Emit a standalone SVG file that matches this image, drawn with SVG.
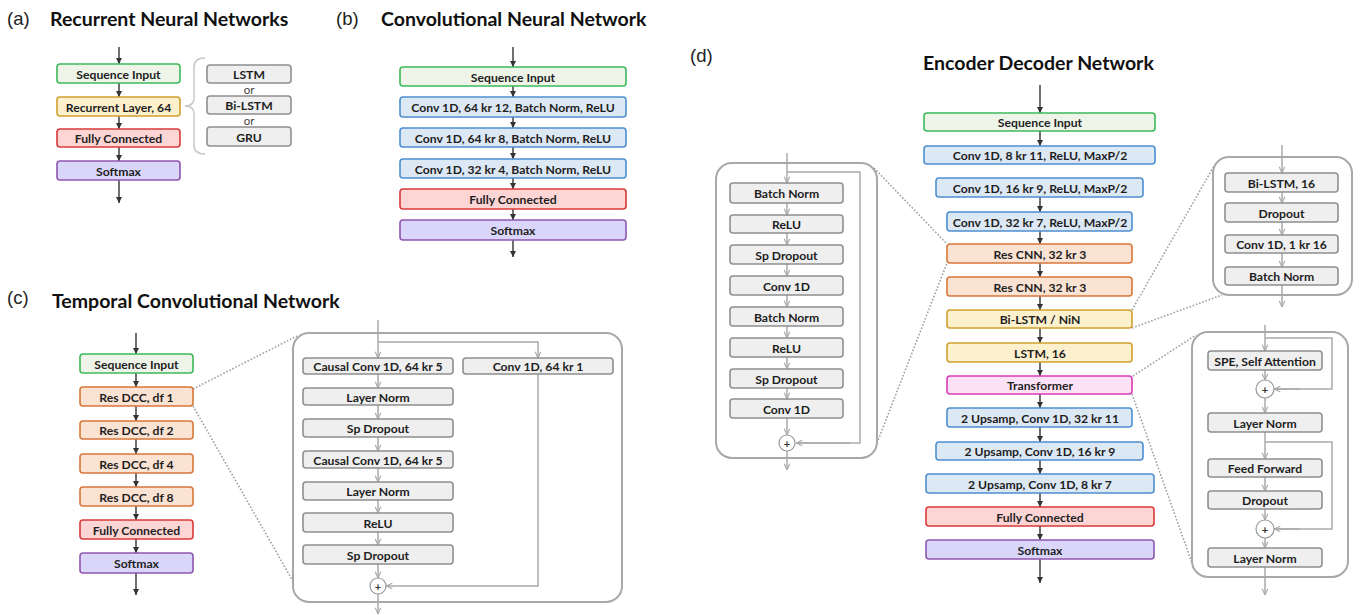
<svg xmlns="http://www.w3.org/2000/svg" width="1360" height="615" viewBox="0 0 1360 615">
<defs>
<marker id="ad" viewBox="0 0 10 10" refX="10" refY="5" markerWidth="6" markerHeight="6" orient="auto" markerUnits="userSpaceOnUse"><path d="M0,0 L10,5 L0,10 z" fill="#333"/></marker>
<marker id="ag" viewBox="0 0 10 10" refX="10" refY="5" markerWidth="7" markerHeight="7" orient="auto" markerUnits="userSpaceOnUse"><path d="M1,1 L10,5 L1,9" fill="none" stroke="#aaa" stroke-width="1.6"/></marker>
<style>
text{font-family:Lato,"Liberation Sans",sans-serif;}
.lab{font-family:"Liberation Sans",Arial,sans-serif;font-size:18.5px;fill:#222;}
.ttl{font-size:19.5px;font-weight:bold;fill:#111;}
.t{font-size:12.2px;font-weight:bold;fill:#1e1e1e;text-anchor:middle;dominant-baseline:central;}
.or{font-size:11.5px;fill:#444;text-anchor:middle;dominant-baseline:central;}
.pl{font-size:11px;font-weight:bold;fill:#333;text-anchor:middle;dominant-baseline:central;}
rect{stroke-width:1.6;}
.g rect{fill:#eef5e8;stroke:#3cb95a;}
.b rect{fill:#dde8f5;stroke:#4d8fd0;}
.o rect{fill:#fbe3d3;stroke:#d8773a;}
.r rect{fill:#fdd5d5;stroke:#d83a3a;}
.p rect{fill:#d9d6fa;stroke:#8e56b0;}
.y rect{fill:#fdf0cc;stroke:#cfa12e;}
.m rect{fill:#fde2f7;stroke:#d93cb7;}
.k rect{fill:#efefef;stroke:#8f8f8f;}
.box{fill:#fff;stroke:#a8a8a8;stroke-width:2;}
.c{fill:#fff;stroke:#999;stroke-width:1.2;}
.d{stroke:#333;stroke-width:1.4;fill:none;marker-end:url(#ad);}
.gl{stroke:#aaa;stroke-width:1.5;fill:none;}
.ga{stroke:#aaa;stroke-width:1.5;fill:none;marker-end:url(#ag);}
.dot{stroke:#a0a0a0;stroke-width:1.6;stroke-dasharray:1.6 1.8;fill:none;}
.br{stroke:#c8c8c8;stroke-width:1.5;fill:none;}
</style>
</defs>
<rect x="0" y="0" width="1360" height="615" fill="#fff" stroke="none"/>

<!-- Labels and titles -->
<text class="lab" x="7" y="25">(a)</text>
<text class="ttl" x="50" y="26">Recurrent Neural Networks</text>
<text class="lab" x="336" y="25">(b)</text>
<text class="ttl" x="381" y="26">Convolutional Neural Network</text>
<text class="lab" x="7" y="304">(c)</text>
<text class="ttl" x="52" y="308">Temporal Convolutional Network</text>
<text class="lab" x="690" y="62">(d)</text>
<text class="ttl" x="923" y="70">Encoder Decoder Network</text>

<!-- Containers (expansion boxes) -->
<g id="tcn-block"><rect class="box" x="293" y="333" width="329" height="269" rx="16"/></g>
<g id="rescnn-block"><rect class="box" x="716" y="163" width="161" height="295" rx="16"/></g>
<g id="bilstm-block"><rect class="box" x="1213" y="157" width="139" height="138" rx="16"/></g>
<g id="transformer-block"><rect class="box" x="1192" y="332" width="156" height="245" rx="16"/></g>

<!-- Connectors -->
<g id="connectors">
<!-- (a) -->
<line class="d" x1="119" y1="47" x2="119" y2="64"/>
<line class="d" x1="119" y1="83" x2="119" y2="97"/>
<line class="d" x1="119" y1="116" x2="119" y2="129"/>
<line class="d" x1="119" y1="147" x2="119" y2="161"/>
<line class="d" x1="119" y1="180" x2="119" y2="203"/>
<path class="br" d="M205,58 Q194,58 194,67 L194,98 Q194,106 185,106 Q194,106 194,114 L194,145 Q194,154 205,154"/>
<!-- (b) -->
<line class="d" x1="513" y1="47" x2="513" y2="67"/>
<line class="d" x1="513" y1="86" x2="513" y2="97"/>
<line class="d" x1="513" y1="117" x2="513" y2="128"/>
<line class="d" x1="513" y1="147" x2="513" y2="159"/>
<line class="d" x1="513" y1="178" x2="513" y2="189"/>
<line class="d" x1="513" y1="209" x2="513" y2="220"/>
<line class="d" x1="513" y1="240" x2="513" y2="257"/>
<!-- (c) main -->
<line class="d" x1="136" y1="333" x2="136" y2="354"/>
<line class="d" x1="136" y1="373" x2="136" y2="387"/>
<line class="d" x1="136" y1="406" x2="136" y2="421"/>
<line class="d" x1="136" y1="439" x2="136" y2="454"/>
<line class="d" x1="136" y1="473" x2="136" y2="487"/>
<line class="d" x1="136" y1="506" x2="136" y2="520"/>
<line class="d" x1="136" y1="539" x2="136" y2="553"/>
<line class="d" x1="136" y1="573" x2="136" y2="595"/>
<line class="dot" x1="193" y1="389" x2="297" y2="336"/>
<line class="dot" x1="193" y1="406" x2="294" y2="583"/>
<!-- (c) block -->
<line class="ga" x1="378" y1="320" x2="378" y2="358"/>
<path class="ga" d="M378,342 H538 V358"/>
<line class="ga" x1="378" y1="374" x2="378" y2="388"/>
<line class="ga" x1="378" y1="405" x2="378" y2="419"/>
<line class="ga" x1="378" y1="437" x2="378" y2="451"/>
<line class="ga" x1="378" y1="468" x2="378" y2="482"/>
<line class="ga" x1="378" y1="500" x2="378" y2="513"/>
<line class="ga" x1="378" y1="532" x2="378" y2="545"/>
<line class="ga" x1="378" y1="564" x2="378" y2="578"/>
<path class="ga" d="M538,374 V586 H386"/>
<line class="ga" x1="378" y1="594" x2="378" y2="614"/>
<!-- (d) main -->
<line class="d" x1="1040" y1="85" x2="1040" y2="113"/>
<line class="d" x1="1040" y1="131" x2="1040" y2="146"/>
<line class="d" x1="1040" y1="197" x2="1040" y2="212"/>
<line class="d" x1="1040" y1="231" x2="1040" y2="244"/>
<line class="d" x1="1040" y1="263" x2="1040" y2="277"/>
<line class="d" x1="1040" y1="296" x2="1040" y2="310"/>
<line class="d" x1="1040" y1="328" x2="1040" y2="343"/>
<line class="d" x1="1040" y1="362" x2="1040" y2="376"/>
<line class="d" x1="1040" y1="394" x2="1040" y2="408"/>
<line class="d" x1="1040" y1="427" x2="1040" y2="442"/>
<line class="d" x1="1040" y1="460" x2="1040" y2="474"/>
<line class="d" x1="1040" y1="493" x2="1040" y2="507"/>
<line class="d" x1="1040" y1="526" x2="1040" y2="540"/>
<line class="d" x1="1040" y1="559" x2="1040" y2="583"/>
<line class="dot" x1="874" y1="168" x2="947" y2="244"/>
<line class="dot" x1="877" y1="443" x2="947" y2="263"/>
<line class="dot" x1="1132" y1="310" x2="1214" y2="166"/>
<line class="dot" x1="1132" y1="328" x2="1222" y2="295"/>
<line class="dot" x1="1133" y1="376" x2="1196" y2="335"/>
<line class="dot" x1="1132" y1="394" x2="1192" y2="563"/>
<!-- (d) res cnn block -->
<line class="ga" x1="787" y1="153" x2="787" y2="183"/>
<path class="gl" d="M787,172 H860 V443 H797"/>
<path class="ga" d="M850,443 H796"/>
<line class="ga" x1="787" y1="203" x2="787" y2="215"/>
<line class="ga" x1="787" y1="233" x2="787" y2="245"/>
<line class="ga" x1="787" y1="264" x2="787" y2="276"/>
<line class="ga" x1="787" y1="295" x2="787" y2="307"/>
<line class="ga" x1="787" y1="326" x2="787" y2="338"/>
<line class="ga" x1="787" y1="357" x2="787" y2="369"/>
<line class="ga" x1="787" y1="388" x2="787" y2="399"/>
<line class="ga" x1="787" y1="418" x2="787" y2="435"/>
<line class="ga" x1="787" y1="451" x2="787" y2="470"/>
<!-- (d) bi-lstm block -->
<line class="ga" x1="1282" y1="145" x2="1282" y2="173"/>
<line class="ga" x1="1282" y1="192" x2="1282" y2="203"/>
<line class="ga" x1="1282" y1="222" x2="1282" y2="235"/>
<line class="ga" x1="1282" y1="253" x2="1282" y2="267"/>
<line class="ga" x1="1282" y1="285" x2="1282" y2="307"/>
<!-- (d) transformer block -->
<line class="ga" x1="1265" y1="325" x2="1265" y2="351"/>
<path class="gl" d="M1265,338 H1332 V389 H1275"/>
<path class="ga" d="M1300,389 H1274"/>
<line class="ga" x1="1265" y1="370" x2="1265" y2="380"/>
<line class="ga" x1="1265" y1="398" x2="1265" y2="413"/>
<line class="ga" x1="1265" y1="432" x2="1265" y2="459"/>
<path class="gl" d="M1265,442 H1332 V529 H1275"/>
<path class="ga" d="M1300,529 H1274"/>
<line class="ga" x1="1265" y1="477" x2="1265" y2="491"/>
<line class="ga" x1="1265" y1="509" x2="1265" y2="520"/>
<line class="ga" x1="1265" y1="538" x2="1265" y2="548"/>
<line class="ga" x1="1265" y1="567" x2="1265" y2="595"/>
</g>

<!-- (a) nodes -->
<g id="a-seq" class="g"><rect x="57" y="64" width="123" height="19" rx="3"/><text class="t" x="118.5" y="74">Sequence Input</text></g>
<g id="a-rec" class="y"><rect x="57" y="97" width="123" height="19" rx="3"/><text class="t" x="118.5" y="107">Recurrent Layer, 64</text></g>
<g id="a-fc" class="r"><rect x="57" y="129" width="123" height="18" rx="3"/><text class="t" x="118.5" y="138.5">Fully Connected</text></g>
<g id="a-sm" class="p"><rect x="57" y="161" width="123" height="19" rx="3"/><text class="t" x="118.5" y="171">Softmax</text></g>
<g id="a-lstm" class="k"><rect x="207" y="65" width="84" height="18" rx="3"/><text class="t" x="249" y="74.5">LSTM</text></g>
<g id="a-bilstm" class="k"><rect x="207" y="96" width="84" height="18" rx="3"/><text class="t" x="249" y="105.5">Bi-LSTM</text></g>
<g id="a-gru" class="k"><rect x="207" y="127" width="84" height="19" rx="3"/><text class="t" x="249" y="137">GRU</text></g>
<text class="or" x="249" y="89.5">or</text>
<text class="or" x="249" y="120.5">or</text>

<!-- (b) nodes -->
<g id="b-seq" class="g"><rect x="400" y="67" width="226" height="19" rx="3"/><text class="t" x="513" y="77">Sequence Input</text></g>
<g id="b-c1" class="b"><rect x="400" y="97" width="226" height="20" rx="3"/><text class="t" x="513" y="107.5">Conv 1D, 64 kr 12, Batch Norm, ReLU</text></g>
<g id="b-c2" class="b"><rect x="400" y="128" width="226" height="19" rx="3"/><text class="t" x="513" y="138">Conv 1D, 64 kr 8, Batch Norm, ReLU</text></g>
<g id="b-c3" class="b"><rect x="400" y="159" width="226" height="19" rx="3"/><text class="t" x="513" y="169">Conv 1D, 32 kr 4, Batch Norm, ReLU</text></g>
<g id="b-fc" class="r"><rect x="400" y="189" width="226" height="20" rx="3"/><text class="t" x="513" y="199.5">Fully Connected</text></g>
<g id="b-sm" class="p"><rect x="400" y="220" width="226" height="20" rx="3"/><text class="t" x="513" y="230.5">Softmax</text></g>

<!-- (c) nodes -->
<g id="c-seq" class="g"><rect x="80" y="354" width="113" height="19" rx="3"/><text class="t" x="136.5" y="364">Sequence Input</text></g>
<g id="c-r1" class="o"><rect x="80" y="387" width="113" height="19" rx="3"/><text class="t" x="136.5" y="397">Res DCC, df 1</text></g>
<g id="c-r2" class="o"><rect x="80" y="421" width="113" height="18" rx="3"/><text class="t" x="136.5" y="430.5">Res DCC, df 2</text></g>
<g id="c-r4" class="o"><rect x="80" y="454" width="113" height="19" rx="3"/><text class="t" x="136.5" y="464">Res DCC, df 4</text></g>
<g id="c-r8" class="o"><rect x="80" y="487" width="113" height="19" rx="3"/><text class="t" x="136.5" y="497">Res DCC, df 8</text></g>
<g id="c-fc" class="r"><rect x="80" y="520" width="113" height="19" rx="3"/><text class="t" x="136.5" y="530">Fully Connected</text></g>
<g id="c-sm" class="p"><rect x="80" y="553" width="113" height="20" rx="3"/><text class="t" x="136.5" y="563.5">Softmax</text></g>

<!-- (c) block nodes -->
<g id="c-cc1" class="k"><rect x="303" y="358" width="150" height="16" rx="3"/><text class="t" x="378" y="366.5">Causal Conv 1D, 64 kr 5</text></g>
<g id="c-c11" class="k"><rect x="463" y="358" width="150" height="16" rx="3"/><text class="t" x="538" y="366.5">Conv 1D, 64 kr 1</text></g>
<g id="c-ln1" class="k"><rect x="303" y="388" width="150" height="17" rx="3"/><text class="t" x="378" y="397">Layer Norm</text></g>
<g id="c-sd1" class="k"><rect x="303" y="419" width="150" height="18" rx="3"/><text class="t" x="378" y="428.5">Sp Dropout</text></g>
<g id="c-cc2" class="k"><rect x="303" y="451" width="150" height="17" rx="3"/><text class="t" x="378" y="460">Causal Conv 1D, 64 kr 5</text></g>
<g id="c-ln2" class="k"><rect x="303" y="482" width="150" height="18" rx="3"/><text class="t" x="378" y="491.5">Layer Norm</text></g>
<g id="c-relu" class="k"><rect x="303" y="513" width="150" height="19" rx="3"/><text class="t" x="378" y="523">ReLU</text></g>
<g id="c-sd2" class="k"><rect x="303" y="545" width="150" height="19" rx="3"/><text class="t" x="378" y="555">Sp Dropout</text></g>
<g id="c-add"><circle class="c" cx="378" cy="586" r="8"/><text class="pl" x="378" y="586.5">+</text></g>

<!-- (d) main nodes -->
<g id="d-seq" class="g"><rect x="924" y="113" width="231" height="18" rx="3"/><text class="t" x="1040" y="122.5">Sequence Input</text></g>
<g id="d-c1" class="b"><rect x="924" y="146" width="231" height="18" rx="3"/><text class="t" x="1040" y="155.5">Conv 1D, 8 kr 11, ReLU, MaxP/2</text></g>
<g id="d-c2" class="b"><rect x="936" y="178" width="207" height="19" rx="3"/><text class="t" x="1040" y="188">Conv 1D, 16 kr 9, ReLU, MaxP/2</text></g>
<g id="d-c3" class="b"><rect x="947" y="212" width="185" height="19" rx="3"/><text class="t" x="1040" y="222">Conv 1D, 32 kr 7, ReLU, MaxP/2</text></g>
<g id="d-res1" class="o"><rect x="947" y="244" width="185" height="19" rx="3"/><text class="t" x="1040" y="254">Res CNN, 32 kr 3</text></g>
<g id="d-res2" class="o"><rect x="947" y="277" width="185" height="19" rx="3"/><text class="t" x="1040" y="287">Res CNN, 32 kr 3</text></g>
<g id="d-bilstm" class="y"><rect x="947" y="310" width="185" height="18" rx="3"/><text class="t" x="1040" y="319.5">Bi-LSTM / NiN</text></g>
<g id="d-lstm" class="y"><rect x="947" y="343" width="185" height="19" rx="3"/><text class="t" x="1040" y="353">LSTM, 16</text></g>
<g id="d-trans" class="m"><rect x="947" y="376" width="185" height="18" rx="3"/><text class="t" x="1040" y="385.5">Transformer</text></g>
<g id="d-u1" class="b"><rect x="947" y="408" width="185" height="19" rx="3"/><text class="t" x="1040" y="418">2 Upsamp, Conv 1D, 32 kr 11</text></g>
<g id="d-u2" class="b"><rect x="936" y="442" width="207" height="18" rx="3"/><text class="t" x="1040" y="451.5">2 Upsamp, Conv 1D, 16 kr 9</text></g>
<g id="d-u3" class="b"><rect x="926" y="474" width="228" height="19" rx="3"/><text class="t" x="1040" y="484">2 Upsamp, Conv 1D, 8 kr 7</text></g>
<g id="d-fc" class="r"><rect x="926" y="507" width="228" height="19" rx="3"/><text class="t" x="1040" y="517">Fully Connected</text></g>
<g id="d-sm" class="p"><rect x="926" y="540" width="228" height="19" rx="3"/><text class="t" x="1040" y="550">Softmax</text></g>

<!-- (d) res cnn block nodes -->
<g id="r-bn1" class="k"><rect x="730" y="183" width="113" height="20" rx="3"/><text class="t" x="786.5" y="193.5">Batch Norm</text></g>
<g id="r-relu1" class="k"><rect x="730" y="215" width="113" height="18" rx="3"/><text class="t" x="786.5" y="224.5">ReLU</text></g>
<g id="r-sd1" class="k"><rect x="730" y="245" width="113" height="19" rx="3"/><text class="t" x="786.5" y="255">Sp Dropout</text></g>
<g id="r-conv1" class="k"><rect x="730" y="276" width="113" height="19" rx="3"/><text class="t" x="786.5" y="286">Conv 1D</text></g>
<g id="r-bn2" class="k"><rect x="730" y="307" width="113" height="19" rx="3"/><text class="t" x="786.5" y="317">Batch Norm</text></g>
<g id="r-relu2" class="k"><rect x="730" y="338" width="113" height="19" rx="3"/><text class="t" x="786.5" y="348">ReLU</text></g>
<g id="r-sd2" class="k"><rect x="730" y="369" width="113" height="19" rx="3"/><text class="t" x="786.5" y="379">Sp Dropout</text></g>
<g id="r-conv2" class="k"><rect x="730" y="399" width="113" height="19" rx="3"/><text class="t" x="786.5" y="409">Conv 1D</text></g>
<g id="r-add"><circle class="c" cx="787" cy="443" r="8"/><text class="pl" x="787" y="443.5">+</text></g>

<!-- (d) bi-lstm block nodes -->
<g id="l-bilstm" class="k"><rect x="1225" y="173" width="113" height="19" rx="3"/><text class="t" x="1281.5" y="183">Bi-LSTM, 16</text></g>
<g id="l-drop" class="k"><rect x="1225" y="203" width="113" height="19" rx="3"/><text class="t" x="1281.5" y="213">Dropout</text></g>
<g id="l-conv" class="k"><rect x="1225" y="235" width="113" height="18" rx="3"/><text class="t" x="1281.5" y="244.5">Conv 1D, 1 kr 16</text></g>
<g id="l-bn" class="k"><rect x="1225" y="267" width="113" height="18" rx="3"/><text class="t" x="1281.5" y="276.5">Batch Norm</text></g>

<!-- (d) transformer block nodes -->
<g id="t-spe" class="k"><rect x="1208" y="351" width="114" height="19" rx="3"/><text class="t" x="1265" y="361">SPE, Self Attention</text></g>
<g id="t-add1"><circle class="c" cx="1265" cy="389" r="9"/><text class="pl" x="1265" y="389.5">+</text></g>
<g id="t-ln1" class="k"><rect x="1208" y="413" width="114" height="19" rx="3"/><text class="t" x="1265" y="423">Layer Norm</text></g>
<g id="t-ff" class="k"><rect x="1208" y="459" width="114" height="18" rx="3"/><text class="t" x="1265" y="468.5">Feed Forward</text></g>
<g id="t-drop" class="k"><rect x="1208" y="491" width="114" height="18" rx="3"/><text class="t" x="1265" y="500.5">Dropout</text></g>
<g id="t-add2"><circle class="c" cx="1265" cy="529" r="9"/><text class="pl" x="1265" y="529.5">+</text></g>
<g id="t-ln2" class="k"><rect x="1208" y="548" width="114" height="19" rx="3"/><text class="t" x="1265" y="558">Layer Norm</text></g>
</svg>
